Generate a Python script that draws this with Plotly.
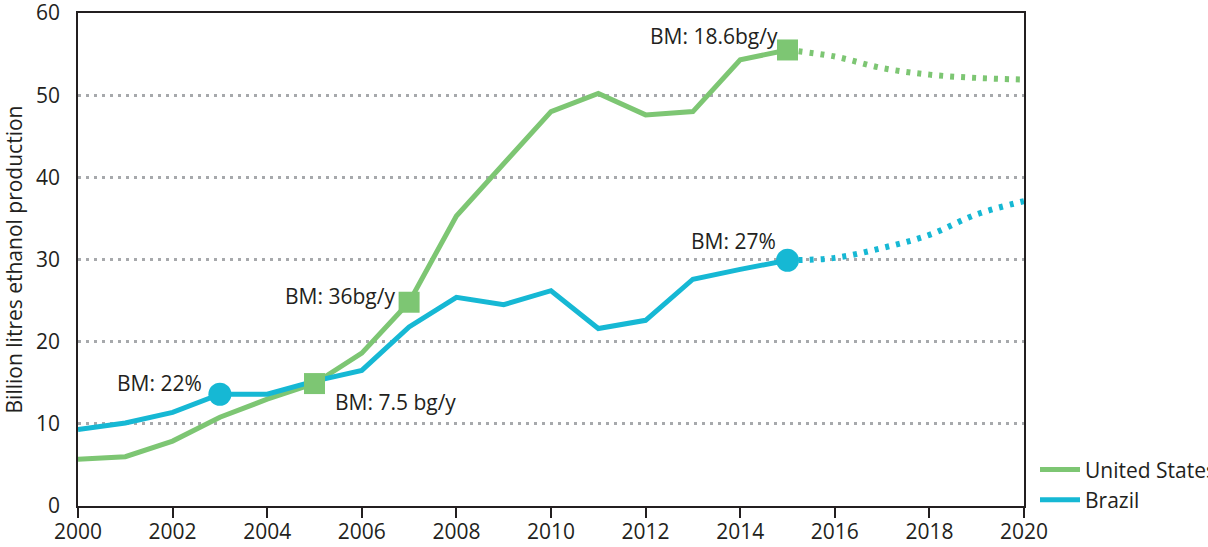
import plotly.graph_objects as go

years = list(range(2000, 2016))
us_values = [5.7, 6.0, 7.9, 10.8, 13.0, 14.9, 18.6, 24.8, 35.3, 41.7, 48.0, 50.2, 47.6, 48.0, 54.3, 55.5]
brazil_values = [9.3, 10.1, 11.4, 13.6, 13.6, 15.2, 16.5, 21.8, 25.4, 24.5, 26.2, 21.6, 22.6, 27.6, 28.8, 29.9]

proj_years = [2015, 2016, 2017, 2018, 2019, 2020]
us_proj = [55.5, 54.7, 53.3, 52.5, 52.1, 51.9]
brazil_proj = [29.9, 30.2, 31.4, 33.0, 35.5, 37.1]

us_marker_years = [2005, 2007, 2015]
brazil_marker_years = [2003, 2015]

x_ticks = list(range(2000, 2021, 2))
y_ticks = [0, 10, 20, 30, 40, 50, 60]

GREEN = "#7dc673"
BLUE = "#16b8d4"
DARK = "#231f20"
FONT = "Open Sans"

fig = go.Figure()

fig.add_trace(go.Scatter(x=proj_years, y=us_proj, mode="lines", line=dict(color=GREEN, width=6, dash="4px,7px", shape="spline"),
                         showlegend=False, hoverinfo="skip"))
fig.add_trace(go.Scatter(x=proj_years, y=brazil_proj, mode="lines", line=dict(color=BLUE, width=6, dash="4px,7px", shape="spline"),
                         showlegend=False, hoverinfo="skip"))
fig.add_trace(go.Scatter(x=years, y=us_values, mode="lines", name="United States", line=dict(color=GREEN, width=5)))
fig.add_trace(go.Scatter(x=years, y=brazil_values, mode="lines", name="Brazil", line=dict(color=BLUE, width=5)))

us_m = [us_values[years.index(y)] for y in us_marker_years]
br_m = [brazil_values[years.index(y)] for y in brazil_marker_years]
fig.add_trace(go.Scatter(x=us_marker_years, y=us_m, mode="markers", marker=dict(symbol="square", size=21, color=GREEN),
                         showlegend=False))
fig.add_trace(go.Scatter(x=brazil_marker_years, y=br_m, mode="markers", marker=dict(symbol="circle", size=23, color=BLUE),
                         showlegend=False))

ann_font = dict(family=FONT, size=21, color=DARK)
annotations = [
    dict(x=2003, y=br_m[0], text="BM: 22%", xanchor="right", yanchor="middle", xshift=-16, yshift=11),
    dict(x=2005, y=us_m[0], text="BM: 7.5 bg/y", xanchor="left", yanchor="middle", xshift=18, yshift=-18),
    dict(x=2007, y=us_m[1], text="BM: 36bg/y", xanchor="right", yanchor="middle", xshift=-12, yshift=6),
    dict(x=2015, y=us_m[2], text="BM: 18.6bg/y", xanchor="right", yanchor="middle", xshift=-8, yshift=14),
    dict(x=2015, y=br_m[1], text="BM: 27%", xanchor="right", yanchor="middle", xshift=-10, yshift=19),
]
for a in annotations:
    a.update(showarrow=False, font=ann_font, xref="x", yref="y")

fig.update_layout(
    width=1208, height=547,
    margin=dict(l=78, r=184, t=13, b=41, autoexpand=False),
    paper_bgcolor="white", plot_bgcolor="white",
    font=dict(family=FONT, size=20, color=DARK),
    annotations=annotations,
    legend=dict(x=(1035 - 78) / 946, y=0.115, xanchor="left", yanchor="top", font=dict(family=FONT, size=21, color=DARK),
                tracegroupgap=0, itemwidth=40, bgcolor="rgba(0,0,0,0)"),
    xaxis=dict(range=[2000, 2020], tickvals=x_ticks, ticktext=[str(t) for t in x_ticks], automargin=False,
               showgrid=False, zeroline=False, showline=True, linecolor=DARK, linewidth=1.5, mirror=True,
               ticks="outside", ticklen=10, tickwidth=1.5, tickcolor=DARK, tickfont=dict(size=21),
               ticklabelstandoff=-4, ticklabeloverflow="allow"),
    yaxis=dict(range=[0, 60], tickvals=y_ticks, showgrid=True, gridcolor="#a7a9ac", gridwidth=2.5, automargin=False,
               griddash="3px,5px", zeroline=False, showline=True, linecolor=DARK, linewidth=1.5, mirror=True,
               ticks="", ticklabelstandoff=12, tickfont=dict(size=21), ticklabeloverflow="allow",
               title=dict(text="Billion litres ethanol production", font=dict(size=21), standoff=12)),
)

fig.write_html("out.html", config={"displayModeBar": False})

with open("out.html", "r", encoding="utf-8") as f:
    html = f.read()
html = html.replace("<head>", "<head><style>html,body{margin:0;padding:0;overflow:hidden;}</style>", 1)
with open("out.html", "w", encoding="utf-8") as f:
    f.write(html)
